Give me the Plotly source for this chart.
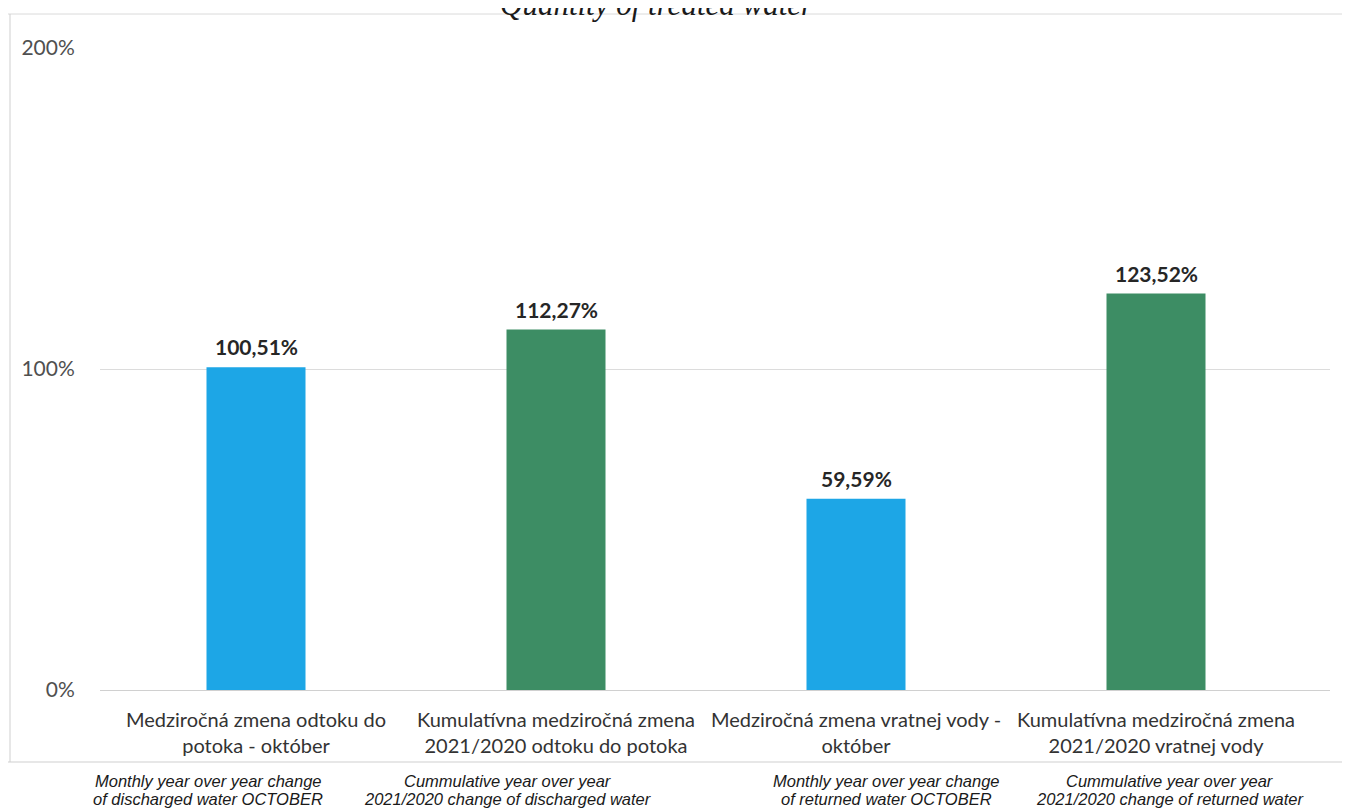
import plotly.graph_objects as go

# ---- data ----
categories_sk = [
    "Medziročná zmena odtoku do<br>potoka - október",
    "Kumulatívna medziročná zmena<br>2021/2020 odtoku do potoka",
    "Medziročná zmena vratnej vody -<br>október",
    "Kumulatívna medziročná zmena<br>2021/2020 vratnej vody",
]
values = [100.51, 112.27, 59.59, 123.52]
bar_colors = ["#1DA6E6", "#3D8D64", "#1DA6E6", "#3D8D64"]
labels_en_line1 = [
    "Monthly year over year change",
    "Cummulative year over year",
    "Monthly year over year change",
    "Cummulative year over year",
]
labels_en_line2 = [
    "of discharged water OCTOBER",
    "2021/2020 change of discharged water",
    "of returned water OCTOBER",
    "2021/2020 change of returned water",
]
en_shift = [-48, -48, 30, 14]
title_text = "Quantity of treated water"
y_ticks = [0, 100, 200]
y_tick_text = ["0%", "100%", "200%"]

OFF = 8  # page body margin
W, H = 1350 - OFF, 810 - OFF
# target pixel positions in the screenshot
PL, PR, PT, PB = 100, 1330, 48, 690
ML, MR, MT = PL - OFF, W - (PR - OFF), PT - OFF
MB = H - (PB - OFF)
PW, PH = W - ML - MR, H - MT - MB


def px_x(px):
    return (px - PL) / PW


def px_y(py):
    return (PB - py) / PH


x_idx = list(range(len(values)))

fig = go.Figure()
fig.add_trace(go.Bar(
    x=x_idx,
    y=values,
    marker=dict(color=bar_colors, line=dict(width=0)),
    hoverinfo="skip",
))

annotations = []
for i, v in enumerate(values):
    annotations.append(dict(
        x=i, y=v, xref="x", yref="y",
        text=f"{v:.2f}%".replace(".", ","),
        showarrow=False, yanchor="bottom", yshift=6,
        font=dict(family="Lato", size=21, color="#262626", weight="bold"),
    ))
for i in x_idx:
    annotations.append(dict(
        x=i, y=px_y(781), xref="x", yref="paper",
        text=labels_en_line1[i], showarrow=False, xshift=en_shift[i],
        yanchor="middle",
        font=dict(family="Liberation Sans", size=16.5, color="#1a1a1a", style="italic"),
    ))
    annotations.append(dict(
        x=i, y=px_y(799), xref="x", yref="paper",
        text=labels_en_line2[i], showarrow=False, xshift=en_shift[i],
        yanchor="middle",
        font=dict(family="Liberation Sans", size=16.5, color="#1a1a1a", style="italic"),
    ))
annotations.append(dict(
    x=px_x(657), y=px_y(24), xref="paper", yref="paper",
    text=title_text, showarrow=False, yanchor="bottom",
    font=dict(family="Liberation Serif", size=31, color="#1a1a1a", style="italic"),
))

border = "#CFCFCF"
shapes = [
    dict(type="line", xref="paper", yref="paper", x0=px_x(0), x1=px_x(1350),
         y0=px_y(14), y1=px_y(14), line=dict(color="#DADADA", width=1)),
    dict(type="line", xref="paper", yref="paper", x0=px_x(10), x1=px_x(10),
         y0=px_y(14), y1=px_y(762), line=dict(color=border, width=1)),
    dict(type="line", xref="paper", yref="paper", x0=px_x(0), x1=px_x(1345),
         y0=px_y(762), y1=px_y(762), line=dict(color=border, width=1)),
]

fig.update_layout(
    width=W, height=H,
    margin=dict(l=ML, r=MR, t=MT, b=MB),
    paper_bgcolor="white", plot_bgcolor="white",
    showlegend=False,
    bargap=0.67,
    annotations=annotations,
    shapes=shapes,
    xaxis=dict(
        tickmode="array", tickvals=x_idx, ticktext=categories_sk,
        range=[-0.52, 3.58],
        showgrid=False, zeroline=False, showline=False,
        ticks="outside", ticklen=12, tickcolor="rgba(0,0,0,0)",
        tickfont=dict(family="Lato", size=20, color="#333333"),
    ),
    yaxis=dict(
        range=[0, 200], tickmode="array", tickvals=y_ticks, ticktext=y_tick_text,
        showgrid=True, gridcolor="#DCDCDC", gridwidth=1,
        zeroline=True, zerolinecolor="#D0D0D0", zerolinewidth=1,
        showline=False,
        ticks="outside", ticklen=20, tickcolor="rgba(0,0,0,0)",
        tickfont=dict(family="Lato", size=21, color="#505050"),
    ),
)

fig.write_html("out.html")
